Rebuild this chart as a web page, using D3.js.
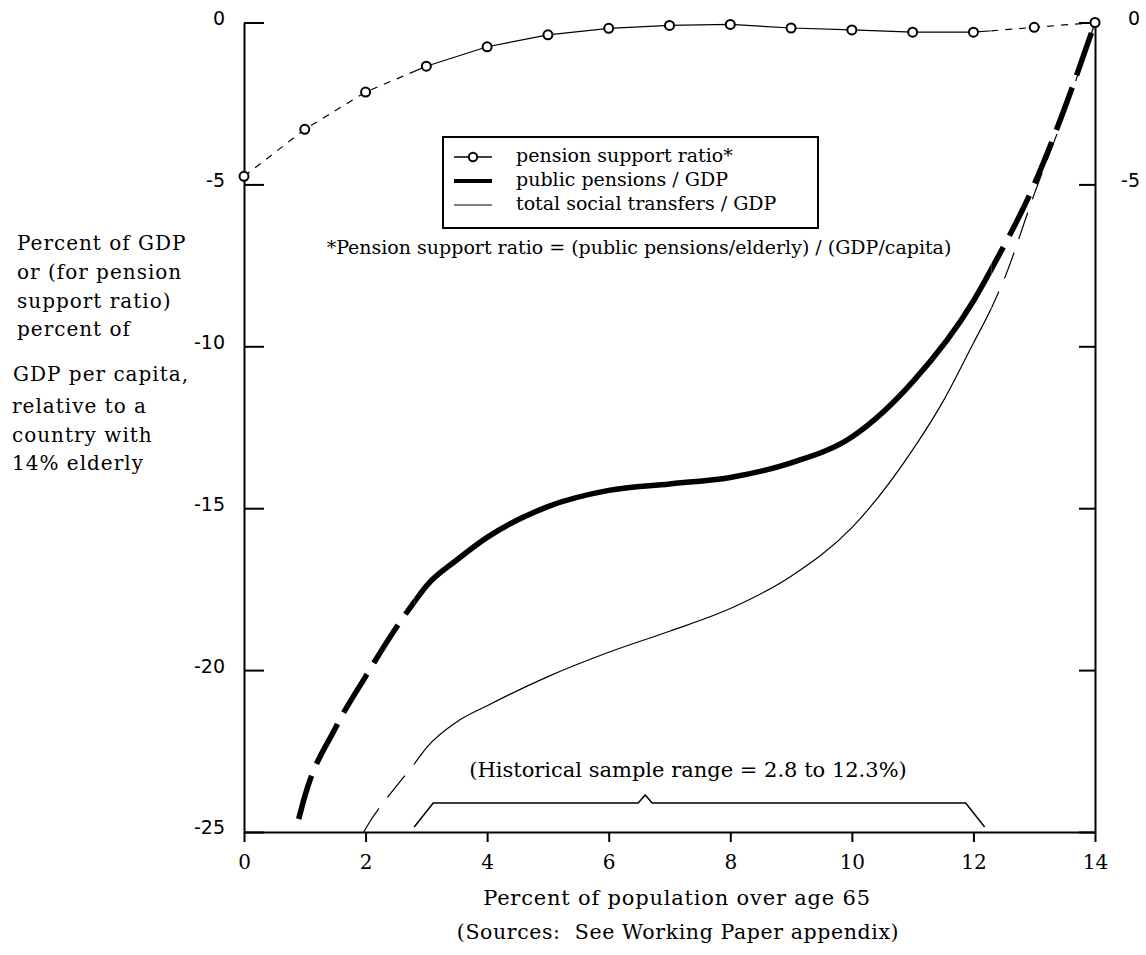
<!DOCTYPE html>
<html><head><meta charset="utf-8">
<script src="https://cdn.jsdelivr.net/npm/d3@7"></script>
<style>body{margin:0;background:#fff}svg{display:block}</style>
</head><body>
<svg id="c" width="1146" height="955"></svg>
<script>
// ---- data ----
const ratioX = [0,1,2,3,4,5,6,7,8,9,10,11,12,13,14];
const ratioY = [-4.75,-3.3,-2.15,-1.35,-0.75,-0.38,-0.18,-0.09,-0.06,-0.17,-0.23,-0.3,-0.3,-0.15,0];
const pensionX = [0.9,1,1.5,2,2.5,2.8,3,3.5,4,5,6,7,8,9,10,11,12,12.3,13,13.5,14];
const pensionY = [-24.6,-23.9,-21.8,-20.2,-18.7,-17.9,-17.4,-16.6,-15.9,-14.95,-14.45,-14.25,-14.05,-13.6,-12.8,-11.1,-8.6,-7.6,-5.0,-2.65,0];
const transfersX = [1.97,2,2.5,2.8,3,3.5,4,5,6,7,8,9,10,11,11.5,12,12.3,12.5,13,13.5,14];
const transfersY = [-25,-24.9,-23.6,-22.9,-22.4,-21.6,-21.1,-20.2,-19.45,-18.8,-18.1,-17.1,-15.6,-13.2,-11.7,-9.9,-8.8,-7.95,-5.3,-2.8,0];
const xTicks = [0,2,4,6,8,10,12,14];
const yTicks = [0,-5,-10,-15,-20,-25];
const rightTickLabels = [0,-5];
const sampleRange = [2.8, 12.3];
const bracketPeak = 6.6;
const legendLabels = ["pension support ratio*","public pensions / GDP","total social transfers / GDP"];
const noteText = "*Pension support ratio = (public pensions/elderly) / (GDP/capita)";
const rangeText = "(Historical sample range = 2.8 to 12.3%)";
const xTitle = "Percent of population over age 65";
const sourceText = "(Sources:  See Working Paper appendix)";
const yTitleLines = ["Percent of GDP","or (for pension","support ratio)","percent of","GDP per capita,","relative to a","country with","14% elderly"];

// ---- layout ----
const svg = d3.select("#c");
svg.append("rect").attr("width",1146).attr("height",955).attr("fill","#fff");
const x = d3.scaleLinear().domain([0,14]).range([244,1095]);
const y = d3.scaleLinear().domain([-25,0]).range([832,22.5]);
const serif = "DejaVu Serif";
const sans = "DejaVu Sans";
const fmt = d => String(d);

const defs = svg.append("defs");
defs.append("clipPath").attr("id","inside").append("rect")
  .attr("x",x(sampleRange[0])).attr("y",0).attr("width",x(sampleRange[1])-x(sampleRange[0])).attr("height",955);
const out = defs.append("clipPath").attr("id","outside");
out.append("rect").attr("x",0).attr("y",0).attr("width",x(sampleRange[0])).attr("height",955);
out.append("rect").attr("x",x(sampleRange[1])).attr("y",0).attr("width",1146-x(sampleRange[1])).attr("height",955);

// ---- axes ----
const axStyle = g => { g.selectAll("path,line").attr("stroke","#000").attr("stroke-width",2); };
const gl = svg.append("g").attr("transform",`translate(${x(0)},0)`)
  .call(d3.axisLeft(y).tickValues(yTicks).tickSizeInner(-20).tickSizeOuter(0).tickPadding(19).tickFormat(fmt));
gl.call(axStyle);
gl.selectAll("text").attr("font-family",sans).attr("font-size",19).attr("fill","#000").attr("dy","0.1em");

const gr = svg.append("g").attr("transform",`translate(${x(14)},0)`)
  .call(d3.axisRight(y).tickValues(yTicks).tickSizeInner(-16).tickSizeOuter(0).tickPadding(45)
    .tickFormat(d => rightTickLabels.includes(d) ? fmt(d) : ""));
gr.call(axStyle);
gr.selectAll("text").attr("font-family",sans).attr("font-size",19).attr("fill","#000").attr("text-anchor","end").attr("dy","0.1em");

const gb = svg.append("g").attr("transform",`translate(0,${y(-25)})`)
  .call(d3.axisBottom(x).tickValues(xTicks).tickSizeInner(10).tickSizeOuter(0).tickPadding(13).tickFormat(fmt));
gb.call(axStyle);
gb.selectAll("text").attr("font-family",serif).attr("font-size",20).attr("fill","#000");

// ---- series ----
const curve = d3.line().x(d=>x(d[0])).y(d=>y(d[1])).curve(d3.curveMonotoneX);
const lin = d3.line().x(d=>x(d[0])).y(d=>y(d[1]));
const pensionData = pensionX.map((v,i)=>[v,pensionY[i]]);
const transfersData = transfersX.map((v,i)=>[v,transfersY[i]]);
const ratioData = ratioX.map((v,i)=>[v,ratioY[i]]);

function drawSeries(data, gen, width, dash){
  svg.append("path").datum(data).attr("d",gen).attr("fill","none").attr("stroke","#000")
    .attr("stroke-width",width).attr("clip-path","url(#inside)");
  svg.append("path").datum(data).attr("d",gen).attr("fill","none").attr("stroke","#000")
    .attr("stroke-width",width).attr("stroke-dasharray",dash).attr("clip-path","url(#outside)");
}
drawSeries(transfersData, curve, 1.2, "28,14");
drawSeries(pensionData, curve, 5.5, "45,13");
drawSeries(ratioData, lin, 1.2, "7,7");
svg.selectAll("circle.pt").data(ratioData).enter().append("circle").attr("class","pt")
  .attr("cx",d=>x(d[0])).attr("cy",d=>y(d[1])).attr("r",4.5)
  .attr("fill","#fff").attr("stroke","#000").attr("stroke-width",2);

// ---- legend ----
const lg = svg.append("g");
lg.append("rect").attr("x",443).attr("y",137).attr("width",375).attr("height",91)
  .attr("fill","#fff").attr("stroke","#000").attr("stroke-width",2);
const legY = [157,181,205];
lg.append("line").attr("x1",454).attr("x2",492).attr("y1",legY[0]).attr("y2",legY[0]).attr("stroke","#000").attr("stroke-width",1.5);
lg.append("circle").attr("cx",473).attr("cy",legY[0]).attr("r",4.2).attr("fill","#fff").attr("stroke","#000").attr("stroke-width",2);
lg.append("line").attr("x1",454).attr("x2",492).attr("y1",legY[1]).attr("y2",legY[1]).attr("stroke","#000").attr("stroke-width",4);
lg.append("line").attr("x1",454).attr("x2",492).attr("y1",legY[2]).attr("y2",legY[2]).attr("stroke","#000").attr("stroke-width",1.2);
lg.selectAll("text").data(legendLabels).enter().append("text")
  .attr("x",516).attr("y",(d,i)=>legY[i]+5).attr("font-family",serif).attr("font-size",19).text(d=>d);

svg.append("text").attr("x",639).attr("y",254).attr("text-anchor","middle")
  .attr("font-family",serif).attr("font-size",19).text(noteText);

// ---- bracket ----
const bY = 803, footY = 827;
const bp = [[x(sampleRange[0]),footY],[x(sampleRange[0])+19,bY],[x(bracketPeak)-7,bY],[x(bracketPeak),bY-8],
  [x(bracketPeak)+7,bY],[x(sampleRange[1])-26,bY],[x(sampleRange[1])-7,footY]];
svg.append("path").attr("d",d3.line()(bp)).attr("fill","none").attr("stroke","#000").attr("stroke-width",1.5);
svg.append("text").attr("x",688).attr("y",777).attr("text-anchor","middle")
  .attr("font-family",serif).attr("font-size",21).text(rangeText);

// ---- titles ----
const yLineY = [243,272,301,329,374,406,435,463];
const yLineX = [17,17,17,17,13,12,12,12];
svg.selectAll("text.yt").data(yTitleLines).enter().append("text").attr("class","yt")
  .attr("x",(d,i)=>yLineX[i]).attr("y",(d,i)=>yLineY[i]+7)
  .attr("font-family",serif).attr("font-size",20).attr("letter-spacing",1).text(d=>d);
svg.append("text").attr("x",677).attr("y",905).attr("text-anchor","middle")
  .attr("font-family",serif).attr("font-size",21).attr("letter-spacing",0.8).text(xTitle);
svg.append("text").attr("x",678).attr("y",939).attr("text-anchor","middle")
  .attr("font-family",serif).attr("font-size",20.5).attr("letter-spacing",0.6).style("white-space","pre").text(sourceText);
</script>
</body></html>
